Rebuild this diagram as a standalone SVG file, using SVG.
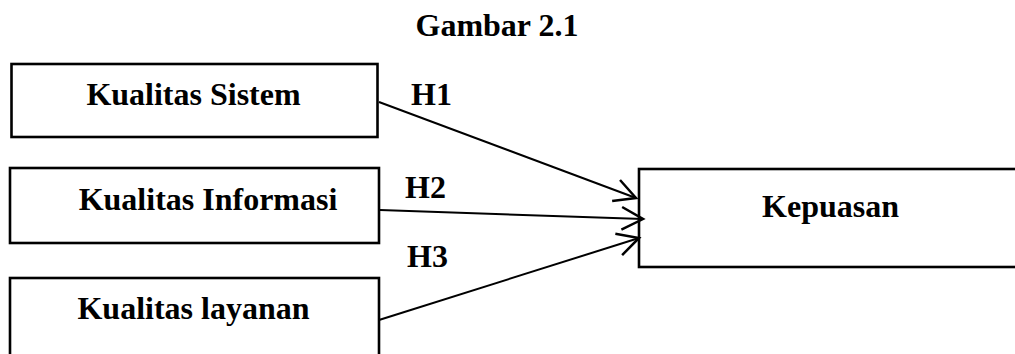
<svg xmlns="http://www.w3.org/2000/svg" width="1015" height="354" viewBox="0 0 1015 354">
  <style>
    .box { fill: #ffffff; stroke: #000000; stroke-width: 2.6; }
    .label { font-family: "Liberation Serif", "Times New Roman", serif; font-weight: bold; font-size: 32px; fill: #000000; }
    .edge { fill: none; stroke: #000000; stroke-width: 2; marker-end: url(#open-arrow); }
  </style>
  <defs>
    <marker id="open-arrow" markerUnits="userSpaceOnUse" markerWidth="30" markerHeight="30" viewBox="-20 -12 24 24" refX="0" refY="0" orient="auto" overflow="visible">
      <path d="M -17 -9 L 0 0 L -17 9" fill="none" stroke="#000000" stroke-width="2"/>
    </marker>
  </defs>

  <rect width="1015" height="354" fill="#ffffff"/>

  <text class="label" x="497" y="36" text-anchor="middle">Gambar 2.1</text>

  <!-- predictor variables -->
  <g id="kualitas-sistem">
    <rect class="box" x="11.5" y="64" width="366" height="73"/>
    <text class="label" x="193.5" y="105" text-anchor="middle">Kualitas Sistem</text>
  </g>
  <g id="kualitas-informasi">
    <rect class="box" x="10" y="168" width="369" height="75"/>
    <text class="label" x="208" y="210" text-anchor="middle">Kualitas Informasi</text>
  </g>
  <g id="kualitas-layanan">
    <rect class="box" x="10" y="278" width="369" height="90"/>
    <text class="label" x="193.5" y="319" text-anchor="middle">Kualitas layanan</text>
  </g>

  <!-- outcome variable -->
  <g id="kepuasan">
    <rect class="box" x="639" y="169" width="390" height="98"/>
    <text class="label" x="830.5" y="217" text-anchor="middle">Kepuasan</text>
  </g>

  <!-- hypothesis paths -->
  <g id="connectors">
    <line class="edge" x1="379" y1="102" x2="636" y2="198"/>
    <line class="edge" x1="380" y1="210" x2="643" y2="219"/>
    <line class="edge" x1="379" y1="320" x2="639" y2="238"/>
    <text class="label" x="411" y="105">H1</text>
    <text class="label" x="405" y="198">H2</text>
    <text class="label" x="407" y="267">H3</text>
  </g>
</svg>
